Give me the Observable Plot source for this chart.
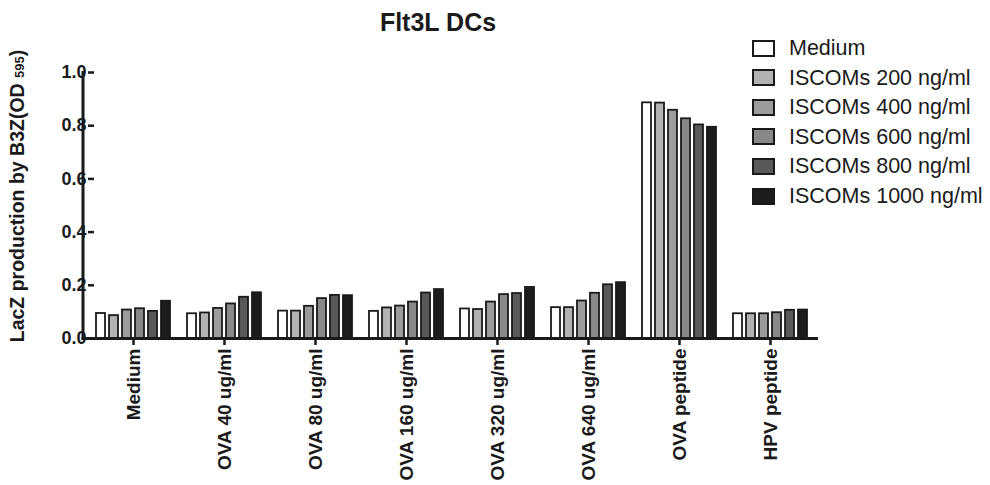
<!DOCTYPE html>
<html><head><meta charset="utf-8">
<script src="https://cdn.jsdelivr.net/npm/d3@7"></script>
<script src="https://cdn.jsdelivr.net/npm/@observablehq/plot@0.6"></script>
<style>
html,body{margin:0;padding:0;background:#fff;}
#wrap{position:relative;width:990px;height:485px;overflow:hidden;font-family:"Liberation Sans",Arial,sans-serif;color:#1a1a1a;}
#chart{position:absolute;left:0;top:0;}
#title{position:absolute;left:438px;top:10px;transform:translateX(-50%);font-weight:bold;font-size:25px;line-height:25px;white-space:nowrap;}
#ylabel{position:absolute;left:18px;top:196px;transform:translate(-50%,-50%) rotate(-90deg);font-weight:bold;font-size:19.5px;line-height:21px;white-space:nowrap;}
#ylabel .sub{font-size:13px;}
#legend{position:absolute;left:752px;top:0;}
.row{position:absolute;left:0;height:20px;display:flex;align-items:center;white-space:nowrap;}
.sw{width:23px;height:17px;box-sizing:border-box;border:2.5px solid #1a1a1a;margin-right:14px;flex:none;}
.lt{font-size:21.5px;line-height:20px;}
#chart svg g[aria-label="y-axis tick"] path,#chart svg g[aria-label="fx-axis tick"] path{stroke-width:2.5px;}
#chart svg g[aria-label="fx-axis tick label"]{font-size:19px;}
</style>
</head><body>
<div id="wrap">
  <div id="chart"></div>
  <div id="title">Flt3L DCs</div>
  <div id="ylabel">LacZ production by B3Z(OD <span class="sub">595</span>)</div>
  <div id="legend"></div>
</div>
<script>
const categories = ["Medium", "OVA 40 ug/ml", "OVA 80 ug/ml", "OVA 160 ug/ml", "OVA 320 ug/ml", "OVA 640 ug/ml", "OVA peptide", "HPV peptide"];
const series = ["Medium", "ISCOMs 200 ng/ml", "ISCOMs 400 ng/ml", "ISCOMs 600 ng/ml", "ISCOMs 800 ng/ml", "ISCOMs 1000 ng/ml"];
const colors = ["#ffffff", "#b2b2b2", "#9c9c9c", "#898989", "#595959", "#1c1c1c"];
const yTicks = [0, 0.2, 0.4, 0.6, 0.8, 1.0];

const mediumValues   = [0.094, 0.093, 0.103, 0.102, 0.111, 0.116, 0.886, 0.093];
const iscoms200      = [0.086, 0.096, 0.103, 0.115, 0.109, 0.116, 0.885, 0.093];
const iscoms400      = [0.107, 0.113, 0.121, 0.122, 0.137, 0.141, 0.858, 0.093];
const iscoms600      = [0.112, 0.130, 0.150, 0.137, 0.165, 0.170, 0.826, 0.097];
const iscoms800      = [0.102, 0.155, 0.162, 0.171, 0.169, 0.202, 0.803, 0.106];
const iscoms1000     = [0.140, 0.172, 0.161, 0.184, 0.192, 0.210, 0.794, 0.107];

const values = [mediumValues, iscoms200, iscoms400, iscoms600, iscoms800, iscoms1000];
const data = series.flatMap((s, i) => categories.map((c, j) => ({category: c, series: s, value: values[i][j]})));

const plot = Plot.plot({
  width: 990, height: 485,
  marginLeft: 84, marginRight: 172, marginTop: 72, marginBottom: 147,
  style: {fontFamily: "'Liberation Sans', Arial, sans-serif", fontSize: "18px", fontWeight: "bold", color: "#1a1a1a", background: "transparent", overflow: "visible"},
  fx: {domain: categories, paddingInner: 0.147, paddingOuter: 0.085, axis: "bottom", label: null, tickRotate: -90, tickSize: 7, tickPadding: 3},
  x: {domain: series, paddingInner: 0.28, paddingOuter: 0, axis: null},
  y: {domain: [0, 1], ticks: yTicks, tickFormat: d => d.toFixed(1), label: null, tickSize: 6, tickPadding: 2},
  color: {domain: series, range: colors},
  marks: [
    Plot.barY(data, {fx: "category", x: "series", y: "value", fill: "series", stroke: "#1a1a1a", strokeWidth: 1.8})
  ]
});
document.getElementById("chart").appendChild(plot);

// axis lines from the plot's own scales
const svg = d3.select(plot);
const ys = plot.scale("y"), fxs = plot.scale("fx");
const y0 = ys.apply(0), y1 = ys.apply(1);
const [xa, xb] = fxs.range;
svg.append("line").attr("x1", xa - 1).attr("x2", xa - 1).attr("y1", y1 - 1).attr("y2", y0 + 1.5)
  .attr("stroke", "#1a1a1a").attr("stroke-width", 3);
svg.append("line").attr("x1", xa - 2.5).attr("x2", xb).attr("y1", y0 + 0.5).attr("y2", y0 + 0.5)
  .attr("stroke", "#1a1a1a").attr("stroke-width", 3);

// legend
const legend = document.getElementById("legend");
series.forEach((s, i) => {
  const row = document.createElement("div");
  row.className = "row";
  row.style.top = (38 + i * 29.6) + "px";
  row.innerHTML = `<div class="sw" style="background:${colors[i]}"></div><div class="lt">${s}</div>`;
  legend.appendChild(row);
});
</script>
</body></html>
